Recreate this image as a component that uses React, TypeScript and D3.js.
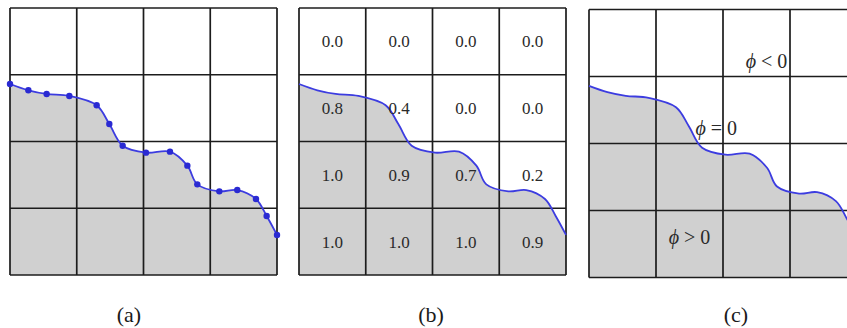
import React from "react";
import * as d3 from "d3";

// interface curve sample points, in grid-cell units (x: 0..4 left→right, y: 0..4 top→bottom)
const curveX = [0, 0.275, 0.549, 0.889, 1.298, 1.488, 1.688, 2.037, 2.397, 2.657, 2.806, 3.136, 3.405, 3.685, 3.845, 4.0];
const curveY = [1.139, 1.233, 1.288, 1.318, 1.458, 1.738, 2.063, 2.167, 2.152, 2.362, 2.642, 2.747, 2.727, 2.861, 3.116, 3.4];

// volume fractions, row by row (top to bottom)
const fracRow0 = ["0.0", "0.0", "0.0", "0.0"];
const fracRow1 = ["0.8", "0.4", "0.0", "0.0"];
const fracRow2 = ["1.0", "0.9", "0.7", "0.2"];
const fracRow3 = ["1.0", "1.0", "1.0", "0.9"];

const panelLabels = ["(a)", "(b)", "(c)"];
const phiLabels = ["ϕ < 0", "ϕ = 0", "ϕ > 0"];
const phiPos = [[2.65, 0.77], [1.9, 1.77], [1.5, 3.4]];
const gridTicks = [0, 1, 2, 3, 4];

const W = 847;
const H = 328;
const FONT = "'Liberation Serif', 'DejaVu Serif', serif";

const panels = [
  { x0: 10, y0: 8, size: 267, labelX: 129 },
  { x0: 299, y0: 8, size: 267, labelX: 431 },
  { x0: 589, y0: 9.5, size: 268, labelX: 736 },
];

function Panel({ p, idx }: { p: typeof panels[number]; idx: number }) {
  const x = d3.scaleLinear().domain([0, 4]).range([p.x0, p.x0 + p.size]);
  const y = d3.scaleLinear().domain([0, 4]).range([p.y0, p.y0 + p.size]);
  const pts = curveX.map((cx, i) => [cx, curveY[i]] as [number, number]);
  const area = d3
    .area<[number, number]>()
    .x((d) => x(d[0]))
    .y0(y(4))
    .y1((d) => y(d[1]))
    .curve(d3.curveCatmullRom.alpha(0.5));
  const line = d3
    .line<[number, number]>()
    .x((d) => x(d[0]))
    .y((d) => y(d[1]))
    .curve(d3.curveCatmullRom.alpha(0.5));
  const rows = [fracRow0, fracRow1, fracRow2, fracRow3];
  return (
    <g>
      <rect x={x(0)} y={y(0)} width={x(4) - x(0)} height={y(4) - y(0)} fill="#ffffff" />
      <path d={area(pts) || ""} fill="#d0d0d0" />
      {gridTicks.map((t) => (
        <line key={"v" + t} x1={x(t)} x2={x(t)} y1={y(0)} y2={y(4)} stroke="#1c1c1c" strokeWidth={1.7} />
      ))}
      {gridTicks.map((t) => (
        <line key={"h" + t} x1={x(0)} x2={x(4)} y1={y(t)} y2={y(t)} stroke="#1c1c1c" strokeWidth={1.7} />
      ))}
      <path d={line(pts) || ""} fill="none" stroke="#3c3ce0" strokeWidth={1.8} />
      {idx === 0 &&
        pts.map((d, i) => <circle key={i} cx={x(d[0])} cy={y(d[1])} r={3.2} fill="#2a2ad2" />)}
      {idx === 1 &&
        rows.map((row, r) =>
          row.map((v, c) => (
            <text
              key={r + "-" + c}
              x={x(c + 0.5)}
              y={y(r + 0.5)}
              dy="0.35em"
              textAnchor="middle"
              fontFamily={FONT}
              fontSize={17}
              fill="#2a2a2a"
            >
              {v}
            </text>
          ))
        )}
      {idx === 2 &&
        phiLabels.map((s, i) => (
          <text
            key={i}
            x={x(phiPos[i][0])}
            y={y(phiPos[i][1])}
            dy="0.35em"
            textAnchor="middle"
            fontFamily={FONT}
            fontSize={20}
            fill="#2a2a2a"
          >
            <tspan fontStyle="italic">{s.slice(0, 1)}</tspan>
            {s.slice(1)}
          </text>
        ))}
      <text x={p.labelX} y={322} textAnchor="middle" fontFamily={FONT} fontSize={22} fill="#1a1a1a">
        {panelLabels[idx]}
      </text>
    </g>
  );
}

export default function App() {
  return (
    <svg
      width={W}
      height={H}
      style={{ position: "absolute", left: 0, top: 0, background: "#ffffff" }}
    >
      <rect x={0} y={0} width={W} height={H} fill="#ffffff" />
      {panels.map((p, i) => (
        <Panel key={i} p={p} idx={i} />
      ))}
    </svg>
  );
}
